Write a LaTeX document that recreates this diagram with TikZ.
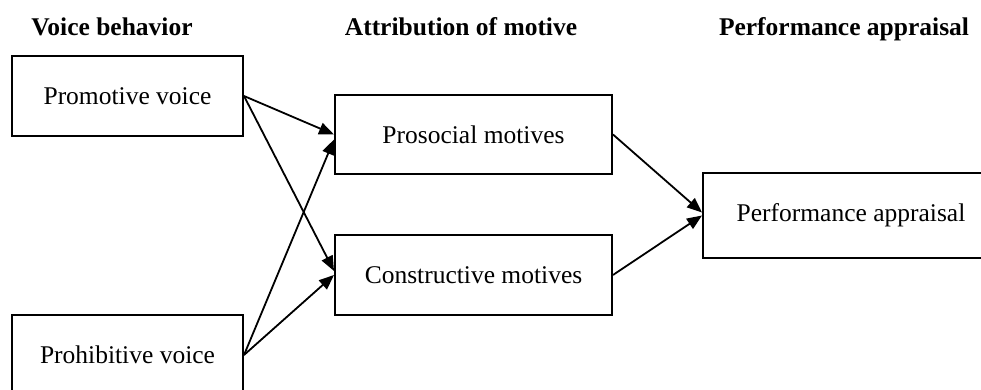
\documentclass[tikz,border=0pt]{standalone}
\usepackage{fontspec}
\setmainfont{Liberation Serif}
\usepackage{xcolor}
\usepackage{tikz}
\usetikzlibrary{arrows.meta,positioning}

\begin{document}
\begin{tikzpicture}[
    x=0.5pt, y=-0.5pt,
    font=\fontsize{12.75pt}{15pt}\selectfont,
    box/.style={rectangle, draw, line width=1pt, text centered, minimum width=115.5pt, minimum height=40pt},
    head/.style={anchor=base, font=\fontsize{12.75pt}{15pt}\selectfont\bfseries},
    arr/.style={-{Triangle[length=7.5pt,width=6pt]}, line width=0.9pt}
]
    \useasboundingbox (0,0) rectangle (981,390);

    % Column headings
    \node [head] (hvoice) at (112,36) {Voice behavior};
    \node [head] (hmotive) at (461,36) {Attribution of motive};
    \node [head] (hperf) at (844,36) {Performance appraisal};

    % Boxes
    \node [box] (promo) at (127.5,96) {Promotive voice};
    \node [box] (prohib) at (127.5,355) {Prohibitive voice};
    \node [box, minimum width=138.5pt, minimum height=39.5pt] (prosoc) at (473.5,134.5) {Prosocial motives};
    \node [box, minimum width=138.5pt] (constr) at (473.5,275) {Constructive motives};
    \node [box, minimum width=148pt, minimum height=42.5pt] (perf) at (851,215.5) {Performance appraisal};

    % Paths
    \draw [arr] (promo.east) -- (prosoc.west);
    \draw [arr] (promo.east) -- ([yshift=2pt]constr.west);
    \draw [arr] (prohib.east) -- ([yshift=-2.5pt]prosoc.west);
    \draw [arr] (prohib.east) -- (constr.west);
    \draw [arr] (prosoc.east) -- ([yshift=1.5pt]perf.west);
    \draw [arr] (constr.east) -- (perf.west);

\end{tikzpicture}
\end{document}
